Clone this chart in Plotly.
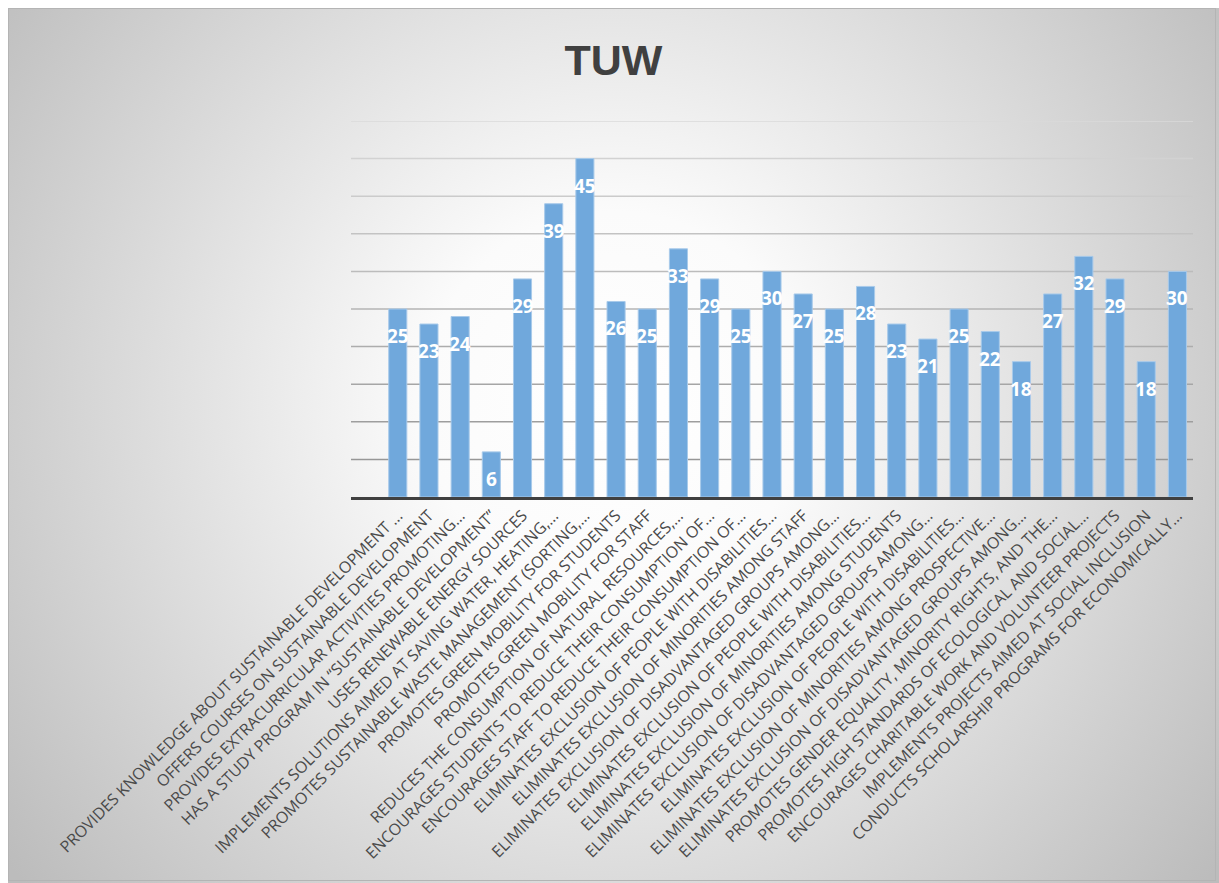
import base64
import plotly.graph_objects as go

# Survey items (x axis) and their counts for TUW
categories = [
    "PROVIDES KNOWLEDGE ABOUT SUSTAINABLE DEVELOPMENT …",
    "OFFERS COURSES ON SUSTAINABLE DEVELOPMENT",
    "PROVIDES EXTRACURRICULAR ACTIVITIES PROMOTING…",
    "HAS A STUDY PROGRAM IN “SUSTAINABLE DEVELOPMENT”",
    "USES RENEWABLE ENERGY SOURCES",
    "IMPLEMENTS SOLUTIONS AIMED AT SAVING WATER, HEATING,…",
    "PROMOTES SUSTAINABLE WASTE MANAGEMENT (SORTING,…",
    "PROMOTES GREEN MOBILITY FOR STUDENTS",
    "PROMOTES GREEN MOBILITY FOR STAFF",
    "REDUCES THE CONSUMPTION OF NATURAL RESOURCES,…",
    "ENCOURAGES STUDENTS TO REDUCE THEIR CONSUMPTION OF…",
    "ENCOURAGES STAFF TO REDUCE THEIR CONSUMPTION OF…",
    "ELIMINATES EXCLUSION OF PEOPLE WITH DISABILITIES…",
    "ELIMINATES EXCLUSION OF MINORITIES AMONG STAFF",
    "ELIMINATES EXCLUSION OF DISADVANTAGED GROUPS AMONG…",
    "ELIMINATES EXCLUSION OF PEOPLE WITH DISABILITIES…",
    "ELIMINATES EXCLUSION OF MINORITIES AMONG STUDENTS",
    "ELIMINATES EXCLUSION OF DISADVANTAGED GROUPS AMONG…",
    "ELIMINATES EXCLUSION OF PEOPLE WITH DISABILITIES…",
    "ELIMINATES EXCLUSION OF MINORITIES AMONG PROSPECTIVE…",
    "ELIMINATES EXCLUSION OF DISADVANTAGED GROUPS AMONG…",
    "PROMOTES GENDER EQUALITY, MINORITY RIGHTS, AND THE…",
    "PROMOTES HIGH STANDARDS OF ECOLOGICAL AND SOCIAL…",
    "ENCOURAGES CHARITABLE WORK AND VOLUNTEER PROJECTS",
    "IMPLEMENTS PROJECTS AIMED AT SOCIAL INCLUSION",
    "CONDUCTS SCHOLARSHIP PROGRAMS FOR ECONOMICALLY…",
]
values = [25, 23, 24, 6, 29, 39, 45, 26, 25, 33, 29, 25, 30,
          27, 25, 28, 23, 21, 25, 22, 18, 27, 32, 29, 18, 30]
grid_values = [5, 10, 15, 20, 25, 30, 35, 40, 45, 50]

positions = list(range(len(categories)))

W, H = 1219, 883
ML, MR, MT, MB = 351, 26, 121, 386
PW, PH = W - ML - MR, H - MT - MB

# Radial grey-to-white backdrop for the chart frame
BX, BY = 8, 8
bw, bh = W - BX, H - BY
svg = (
    f'<svg xmlns="http://www.w3.org/2000/svg" width="{bw}" height="{bh}">'
    '<defs><radialGradient id="g" gradientUnits="userSpaceOnUse" '
    f'cx="{bw/2:.0f}" cy="{bh*0.45:.0f}" r="{(bw**2+bh**2)**0.5/2*1.02:.0f}">'
    '<stop offset="0" stop-color="#ffffff"/>'
    '<stop offset="0.25" stop-color="#fbfbfb"/>'
    '<stop offset="1" stop-color="#bcbcbc"/>'
    '</radialGradient></defs>'
    f'<rect x="0" y="0" width="{bw}" height="{bh}" fill="url(#g)"/>'
    f'<rect x="0.5" y="0.5" width="{bw - 4}" height="{bh - 3}" fill="none" stroke="#b4b4b4" stroke-width="1"/>'
    '</svg>'
)
bg_uri = "data:image/svg+xml;base64," + base64.b64encode(svg.encode()).decode()

fig = go.Figure()

fig.add_trace(go.Bar(
    x=positions,
    y=values,
    width=0.58,
    marker=dict(color="#70A8DC", line=dict(color="#A8CAEA", width=1)),
    hoverinfo="skip",
))

# Value labels sitting inside the top of each bar
for xp, v in zip(positions, values):
    fig.add_annotation(
        x=xp, y=v, yshift=-27, text=str(v), showarrow=False,
        font=dict(family="Open Sans", size=19, color="white", weight="bold"),
        xanchor="center", yanchor="middle",
    )

# Horizontal gridlines, darkening toward the baseline
top_c, bot_c = 0xDA, 0x90
for gv in grid_values:
    t = gv / max(grid_values)
    c = int(bot_c + (top_c - bot_c) * t)
    fig.add_shape(
        type="line", xref="paper", yref="y", x0=0, x1=1, y0=gv, y1=gv,
        line=dict(color=f"rgb({c},{c},{c})", width=1.5), layer="below",
    )

fig.add_layout_image(
    source=bg_uri, xref="paper", yref="paper",
    x=(BX - ML) / PW, y=(H - BY - MB) / PH,
    sizex=bw / PW, sizey=bh / PH,
    xanchor="left", yanchor="top", sizing="stretch", layer="below",
)

fig.update_layout(
    width=W, height=H, autosize=False,
    margin=dict(l=ML, r=MR, t=MT, b=MB, pad=0),
    paper_bgcolor="white",
    plot_bgcolor="rgba(0,0,0,0)",
    showlegend=False,
    title=dict(
        text="TUW", xref="container", yref="container",
        x=(BX + bw / 2) / W, y=1 - 60 / H, xanchor="center", yanchor="middle",
        font=dict(family="Liberation Sans", size=43, color="#404040", weight="bold"),
    ),
    xaxis=dict(
        range=[-1.5, len(categories) - 0.5],
        tickmode="array", tickvals=positions, ticktext=categories,
        tickangle=-45, ticks="", showgrid=False, zeroline=False,
        showline=True, linecolor="#404040", linewidth=3,
        tickfont=dict(family="Open Sans", size=16, color="#4a4a4a"),
        automargin=False,
    ),
    yaxis=dict(
        range=[0, 50], showgrid=False, zeroline=False,
        showticklabels=False, ticks="", showline=False, automargin=False,
    ),
)

fig.write_html("out.html")
